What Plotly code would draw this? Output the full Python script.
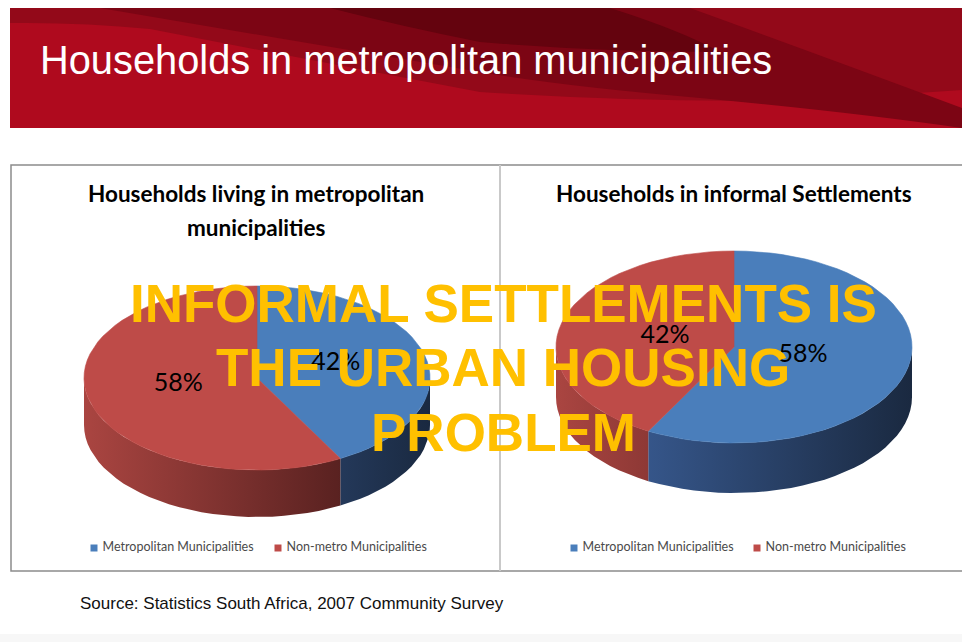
import math
import plotly.graph_objects as go

# ---- data -------------------------------------------------------------
categories = ["Metropolitan Municipalities", "Non-metro Municipalities"]
slice_colors = ["#4a7ebb", "#be4b48"]
left_title = ["Households living in metropolitan", "municipalities"]
left_values = [42, 58]
right_title = ["Households in informal Settlements"]
right_values = [58, 42]
page_title = "Households in metropolitan municipalities"
overlay_lines = ["INFORMAL SETTLEMENTS IS", "THE URBAN HOUSING", "PROBLEM"]
source_note = "Source: Statistics South Africa, 2007 Community Survey"

# ---- page geometry (pixel space, y grows downward) --------------------
W, H = 962, 642
side_scales = [
    [[0, "#3f65a3"], [1, "#1a2940"]],   # blue wall shading
    [[0, "#aa4541"], [1, "#3d1515"]],   # red wall shading
]
CHART_FONT = "Lato, Noto Sans, sans-serif"
SLIDE_FONT = "Liberation Sans, Arial, sans-serif"

fig = go.Figure()


def pt(cx, cy, rx, ry, ang):
    t = math.radians(ang)
    return cx + rx * math.sin(t), cy - ry * math.cos(t)


def arc(cx, cy, rx, ry, a0, a1, dy=0.0, n=90):
    steps = max(2, int(n * (a1 - a0) / 360) + 2)
    xs, ys = [], []
    for i in range(steps):
        a = a0 + (a1 - a0) * i / (steps - 1)
        x, y = pt(cx, cy, rx, ry, a)
        xs.append(x)
        ys.append(y + dy)
    return xs, ys


def pie3d(values, cx, cy, rx, ry, depth, label_f, label_dy):
    total = float(sum(values))
    bounds = []
    a = 0.0
    for v in values:
        b = a + 360.0 * v / total
        bounds.append((a, b))
        a = b
    # side walls (front half only)
    for (a0, a1), scale in zip(bounds, side_scales):
        s0, s1 = max(a0, 90.0), min(a1, 270.0)
        if s1 <= s0:
            continue
        tx, ty = arc(cx, cy, rx, ry, s0, s1)
        bx, by = arc(cx, cy, rx, ry, s0, s1, dy=depth)
        fig.add_trace(go.Scatter(
            x=tx + bx[::-1] + [tx[0]], y=ty + by[::-1] + [ty[0]],
            mode="lines", fill="toself", line=dict(width=0),
            fillgradient=dict(type="horizontal", colorscale=scale,
                              start=cx - rx, stop=cx + rx),
            hoverinfo="skip", showlegend=False))
    # top faces
    for (a0, a1), col in zip(bounds, slice_colors):
        ax, ay = arc(cx, cy, rx, ry, a0, a1)
        fig.add_trace(go.Scatter(
            x=[cx] + ax + [cx], y=[cy] + ay + [cy],
            mode="lines", fill="toself", fillcolor=col,
            line=dict(width=0.6, color=col),
            hoverinfo="skip", showlegend=False))
    # percentage labels
    lx, ly, lt = [], [], []
    for (a0, a1), v in zip(bounds, values):
        m = (a0 + a1) / 2
        x, y = pt(cx, cy, rx * label_f, ry * label_f, m)
        lx.append(x)
        ly.append(y + label_dy)
        lt.append(f"{round(100 * v / total)}%")
    fig.add_trace(go.Scatter(
        x=lx, y=ly, text=lt, mode="text",
        textfont=dict(family=CHART_FONT, size=25, color="#000000"),
        hoverinfo="skip", showlegend=False))


def legend_row(x0, gap_x, y):
    xs = [x0, x0 + gap_x]
    fig.add_trace(go.Scatter(
        x=xs, y=[y, y], mode="markers+text",
        marker=dict(symbol="square", size=7, color=slice_colors),
        text=[" " + c for c in categories], textposition="middle right",
        textfont=dict(family=CHART_FONT, size=12.5, color="#4a4a4a"),
        hoverinfo="skip", showlegend=False))


pie3d(left_values, 257, 378, 173, 92, 47, 0.47, -4)
pie3d(right_values, 734, 347, 178, 96, 50, 0.40, -1)
legend_row(94, 184, 548)
legend_row(574, 183, 548)

# ---- decorative slide elements ----------------------------------------
shapes = [
    dict(type="rect", x0=10, y0=8, x1=962, y1=128, fillcolor="#af0a1e",
         line=dict(width=0)),
    dict(type="path",
         path="M10,8 L962,8 L962,90 Q880,96 800,100 Q650,103 480,92 "
              "Q300,58 150,29 Q80,22 10,23 Z",
         fillcolor="#930919", line=dict(width=0)),
    dict(type="path",
         path="M100,8 L690,8 Q820,55 962,108 L962,128 Q850,112 700,98 "
              "Q560,86 480,72 Q300,42 100,8 Z",
         fillcolor="#7c0514", line=dict(width=0)),
    dict(type="path",
         path="M330,8 L610,8 Q680,30 720,52 Q600,52 480,42 Q400,26 330,8 Z",
         fillcolor="#64030e", line=dict(width=0)),
    dict(type="rect", x0=11, y0=165, x1=963, y1=571, fillcolor="rgba(0,0,0,0)",
         line=dict(color="#8c8c8c", width=1.5)),
    dict(type="line", x0=500, y0=165, x1=500, y1=571,
         line=dict(color="#c9c9c9", width=2)),
    dict(type="rect", x0=0, y0=634, x1=962, y1=642, fillcolor="#f7f7f7",
         line=dict(width=0)),
]
for s in shapes:
    s.update(xref="x", yref="y", layer="below")

annotations = [
    dict(x=38, y=60, text=page_title, xanchor="left", yanchor="middle",
         font=dict(family=SLIDE_FONT, size=39.8, color="#ffffff")),
    dict(x=78, y=603, text=source_note, xanchor="left", yanchor="middle",
         font=dict(family=SLIDE_FONT, size=17, color="#111111")),
]
for i, line in enumerate(left_title):
    annotations.append(dict(x=256, y=193 + 34 * i, text=f"<b>{line}</b>",
                            xanchor="center", yanchor="middle",
                            font=dict(family=CHART_FONT, size=22.5, color="#000000")))
for i, line in enumerate(right_title):
    annotations.append(dict(x=734, y=193 + 34 * i, text=f"<b>{line}</b>",
                            xanchor="center", yanchor="middle",
                            font=dict(family=CHART_FONT, size=22.5, color="#000000")))
for i, line in enumerate(overlay_lines):
    annotations.append(dict(x=503, y=303 + 64.5 * i, text=f"<b>{line}</b>",
                            xanchor="center", yanchor="middle",
                            font=dict(family=SLIDE_FONT, size=53, color="#ffc000")))
for a in annotations:
    a.update(xref="x", yref="y", showarrow=False)

fig.update_layout(
    width=W, height=H, margin=dict(l=0, r=0, t=0, b=0),
    paper_bgcolor="#ffffff", plot_bgcolor="#ffffff",
    xaxis=dict(range=[0, W], visible=False, fixedrange=True),
    yaxis=dict(range=[H, 0], visible=False, fixedrange=True),
    shapes=shapes, annotations=annotations, showlegend=False,
)
fig.write_html("out.html", config={"displayModeBar": False})
